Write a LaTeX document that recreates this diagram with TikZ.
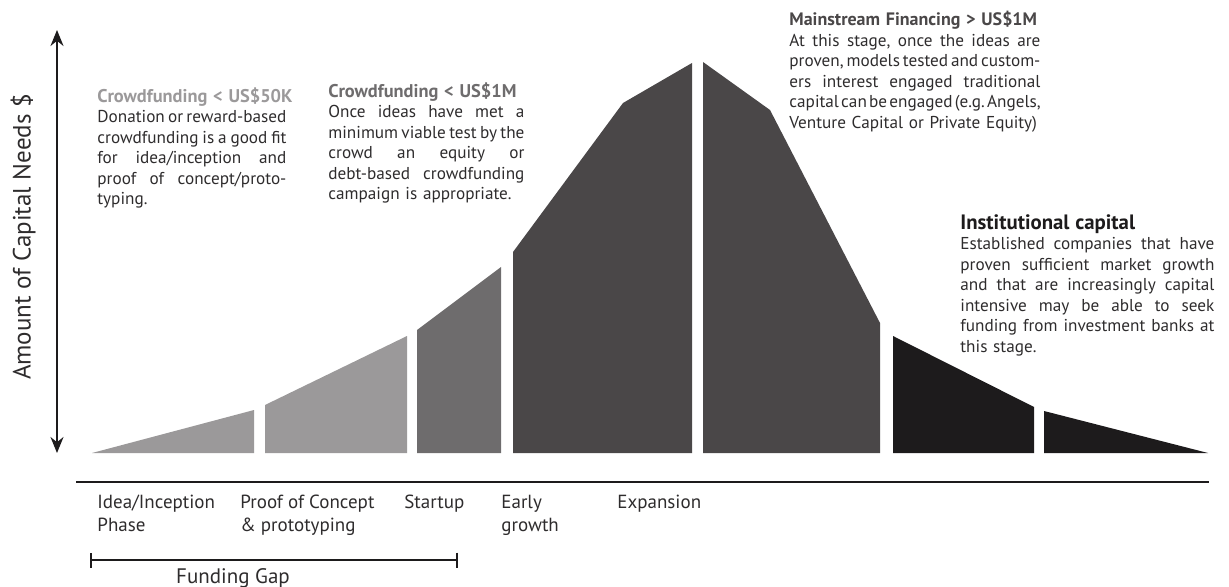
\documentclass[tikz,border=0pt]{standalone}
\usepackage{fontspec}
\setmainfont{PT Sans}
\usetikzlibrary{arrows.meta,positioning}
\definecolor{CapClaro}{HTML}{9B999A}
\definecolor{CapMedio}{HTML}{6E6C6D}
\definecolor{CapOscuro}{HTML}{4A4748}
\definecolor{CapNegro}{HTML}{1D1B1C}
\definecolor{CapTexto}{HTML}{2E2C2D}
\frenchspacing
% heading of a note: size, colour, text
\newcommand{\notehead}[3]{\mbox{\fontsize{#1}{10.25}\selectfont\bfseries\color{#2}#3}\\}
% one justified line of a note
\newcommand{\jline}[1]{\makebox[\hsize][s]{\spaceskip=.25em plus 1fil minus .12em\relax#1}\\}

\begin{document}
\begin{tikzpicture}[x=.5pt,y=-.5pt,>=Stealth,
  note/.style={anchor=north west,align=left,inner sep=0pt,text=CapTexto,font=\fontsize{8.6}{10.25}\selectfont},
  stage/.style={anchor=north west,align=left,inner sep=0pt,text=CapTexto,font=\fontsize{9.5}{11.5}\selectfont}]
\useasboundingbox (0,0) rectangle (1229,587);
% curve of capital needs, one block per stage
\fill[CapClaro] (92,453)--(254,410)--(254,453)--cycle;
\fill[CapClaro] (265,453)--(265,405)--(407,336)--(407,453)--cycle;
\fill[CapMedio] (417,453)--(417,330)--(501,267)--(501,453)--cycle;
\fill[CapOscuro] (513,453)--(513,252)--(623,103)--(692,63)--(692,453)--cycle;
\fill[CapOscuro] (703,453)--(703,62)--(770,110)--(880,323)--(880,453)--cycle;
\fill[CapNegro] (893,453)--(893,336)--(1034,407)--(1034,453)--cycle;
\fill[CapNegro] (1044,453)--(1044,411)--(1208,453)--cycle;
% axes
\coordinate (ytop) at (57,30);
\coordinate (ybot) at (57,453);
\draw[{Stealth[length=8pt,width=6.5pt]}-{Stealth[length=8pt,width=6.5pt]},line width=1pt,CapNegro] (ytop)--(ybot);
\node[rotate=90,text=CapTexto,font=\fontsize{12.5}{14}\selectfont] (ylab) at (23,237) {Amount of Capital Needs \$};
\coordinate (xleft) at (76,482);
\coordinate (xright) at (1209,482);
\draw[line width=.8pt,CapNegro] (xleft)--(xright);
% stages
\node[stage] (idea) at (97,495) {Idea/Inception\\Phase};
\node[stage] (proof) at (240,495) {Proof of Concept\\\& prototyping};
\node[stage] (startup) at (404,495) {Startup};
\node[stage] (early) at (501,495) {Early\\growth};
\node[stage] (expansion) at (617,495) {Expansion};
\coordinate (gapL) at (90,560);
\coordinate (gapR) at (458,560);
\draw[{Bar[width=7.5pt]}-{Bar[width=7.5pt]},line width=.8pt,CapNegro] (gapL)--(gapR);
\node[text=CapTexto,font=\fontsize{10.5}{12}\selectfont] (gap) at (233,578) {Funding Gap};
% notes
\node[note,text width=94.5pt] (cf50) at (97,87) {\notehead{9.2}{CapClaro}{Crowdfunding < US\$50K}
\jline{Donation or reward-based}
\jline{crowdfunding is a good fit}
\jline{for idea/inception and}
\jline{proof of concept/proto-}
typing.};
\node[note,text width=98pt] (cf1m) at (328,82) {\notehead{9.2}{CapMedio}{Crowdfunding < US\$1M}
\jline{Once ideas have met a}
\jline{minimum viable test by the}
\jline{crowd an equity or}
\jline{debt-based crowdfunding}
campaign is appropriate.};
\node[note,text width=125.5pt] (mainstream) at (789,11) {\notehead{9}{CapOscuro}{Mainstream Financing > US\$1M}
\jline{At this stage, once the ideas are}
\jline{proven, models tested and custom-}
\jline{ers interest engaged traditional}
\jline{capital can be engaged (e.g. Angels,}
Venture Capital or Private Equity)};
\node[note,text width=127pt] (institutional) at (960,214) {\notehead{10.4}{CapNegro}{Institutional capital}
\jline{Established companies that have}
\jline{proven sufficient market growth}
\jline{and that are increasingly capital}
\jline{intensive may be able to seek}
\jline{funding from investment banks at}
this stage.};
\end{tikzpicture}
\end{document}
